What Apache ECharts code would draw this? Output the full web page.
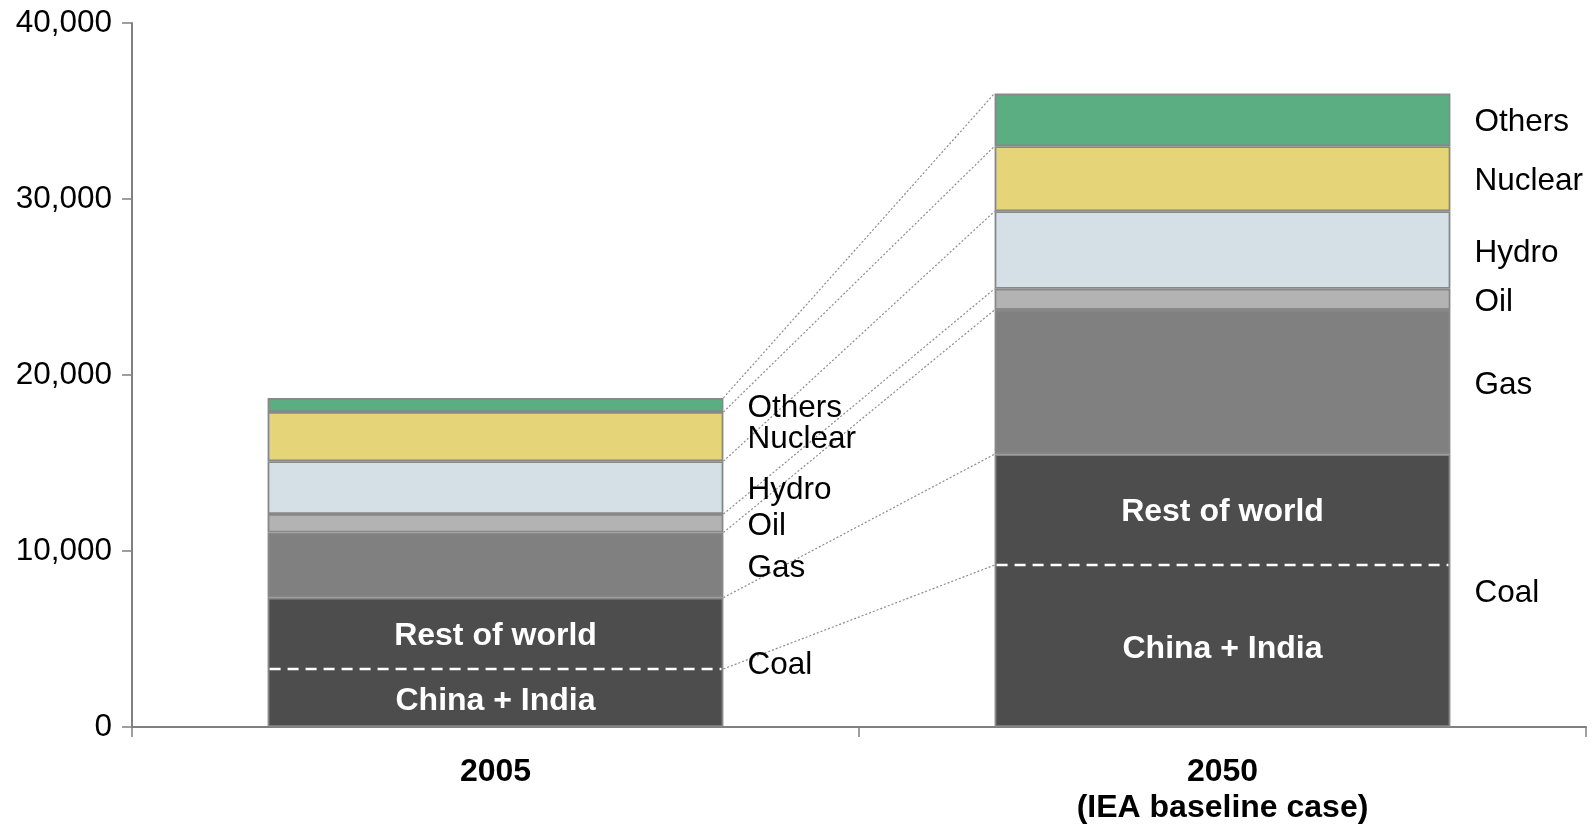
<!DOCTYPE html>
<html>
<head>
<meta charset="utf-8">
<script src="https://cdn.jsdelivr.net/npm/echarts@6/dist/echarts.min.js"></script>
<style>
html,body{margin:0;padding:0;background:#fff;}
#chart{width:1592px;height:826px;}
</style>
</head>
<body>
<div id="chart"></div>
<script>
const categories = ['2005', '2050\n(IEA baseline case)'];
const coalChinaIndia = [3300, 9200];
const coalRestOfWorld = [4050, 6300];
const gas = [3700, 8200];
const oil = [1050, 1200];
const hydro = [3000, 4400];
const nuclear = [2800, 3700];
const others = [800, 3000];
const yTicks = [0, 10000, 20000, 30000, 40000];

const FONT = '"Liberation Sans", Arial, sans-serif';
const BAR_FRAC = 0.627;
const LABEL_DIST = 24;
const coalTotal = coalChinaIndia.map((v, i) => v + coalRestOfWorld[i]);

const stackDefs = [
  { name: 'Coal', data: coalTotal, color: '#4d4d4d', label: false },
  { name: 'Gas', data: gas, color: '#808080', label: true },
  { name: 'Oil', data: oil, color: '#b3b3b3', label: true },
  { name: 'Hydro', data: hydro, color: '#d4e0e6', label: true },
  { name: 'Nuclear', data: nuclear, color: '#e6d479', label: true },
  { name: 'Others', data: others, color: '#5aae82', label: true }
];

// cumulative boundaries for connector lines
const boundaries = [];
{
  let cum = [0, 0];
  cum = cum.map((c, i) => c + coalChinaIndia[i]);
  boundaries.push(cum.slice());
  cum = cum.map((c, i) => c + coalRestOfWorld[i]);
  boundaries.push(cum.slice());
  [gas, oil, hydro, nuclear, others].forEach(arr => {
    cum = cum.map((c, i) => c + arr[i]);
    boundaries.push(cum.slice());
  });
}

const barSeries = stackDefs.map(d => ({
  name: d.name,
  type: 'bar',
  stack: 'total',
  barWidth: (BAR_FRAC * 100) + '%',
  data: d.data,
  itemStyle: { color: d.color, borderColor: '#888888', borderWidth: 1.8 },
  label: d.label ? {
    show: true, position: 'right', distance: LABEL_DIST, offset: [0, 3],
    formatter: d.name, color: '#000', fontSize: 31.5, fontFamily: FONT
  } : { show: false },
  emphasis: { disabled: true },
  z: 2
}));

const connectorSeries = {
  type: 'custom',
  coordinateSystem: 'cartesian2d',
  data: boundaries.map(b => [0, b[0], b[1]]),
  encode: { x: 0, y: 1 },
  silent: true,
  z: 1,
  renderItem: function (params, api) {
    const half = api.size([1, 0])[0] * BAR_FRAC / 2;
    const p0 = api.coord([0, api.value(1)]);
    const p1 = api.coord([1, api.value(2)]);
    return {
      type: 'line',
      shape: { x1: p0[0] + half, y1: p0[1], x2: p1[0] - half, y2: p1[1] },
      style: { stroke: '#8c8c8c', lineWidth: 1.2, lineDash: [2, 2] }
    };
  }
};

const coalSeries = {
  type: 'custom',
  coordinateSystem: 'cartesian2d',
  data: categories.map((c, i) => [i, coalChinaIndia[i], coalTotal[i]]),
  encode: { x: 0, y: 2 },
  silent: true,
  z: 5,
  renderItem: function (params, api) {
    const i = api.value(0);
    const half = api.size([1, 0])[0] * BAR_FRAC / 2;
    const b = api.coord([i, 0]);
    const m = api.coord([i, api.value(1)]);
    const t = api.coord([i, api.value(2)]);
    return {
      type: 'group',
      children: [
        {
          type: 'line',
          shape: { x1: b[0] - half + 2, y1: m[1], x2: b[0] + half - 2, y2: m[1] },
          style: { stroke: '#ffffff', lineWidth: 2.5, lineDash: [11, 7] }
        },
        {
          type: 'text',
          style: { text: 'China + India', x: b[0], y: (b[1] + m[1]) / 2 + 3,
            align: 'center', verticalAlign: 'middle', fill: '#ffffff',
            font: 'bold 32px ' + FONT }
        },
        {
          type: 'text',
          style: { text: 'Rest of world', x: b[0], y: (m[1] + t[1]) / 2 + 3,
            align: 'center', verticalAlign: 'middle', fill: '#ffffff',
            font: 'bold 32px ' + FONT }
        },
        {
          type: 'text',
          style: { text: 'Coal', x: b[0] + half + LABEL_DIST, y: (b[1] + t[1]) / 2 + 3,
            align: 'left', verticalAlign: 'middle', fill: '#000000',
            font: '31.5px ' + FONT }
        }
      ]
    };
  }
};

const chart = echarts.init(document.getElementById('chart'), null, { renderer: 'canvas' });
chart.setOption({
  animation: false,
  backgroundColor: '#ffffff',
  grid: { left: 132, right: 6, top: 23, bottom: 96, containLabel: false },
  xAxis: {
    type: 'category',
    data: categories,
    boundaryGap: true,
    axisLine: { lineStyle: { color: '#808080', width: 2 } },
    axisTick: { show: true, length: 10, alignWithLabel: false, lineStyle: { color: '#808080', width: 1.5 } },
    axisLabel: { color: '#000', fontSize: 32, fontWeight: 'bold', fontFamily: FONT, lineHeight: 36, margin: 27 }
  },
  yAxis: {
    type: 'value',
    min: yTicks[0],
    max: yTicks[yTicks.length - 1],
    interval: yTicks[1] - yTicks[0],
    splitLine: { show: false },
    axisLine: { show: true, lineStyle: { color: '#808080', width: 2 } },
    axisTick: { show: true, length: 10, lineStyle: { color: '#808080', width: 1.5 } },
    axisLabel: {
      color: '#000', fontSize: 31.5, fontFamily: FONT, margin: 20,
      formatter: v => v.toLocaleString('en-US')
    }
  },
  series: [connectorSeries].concat(barSeries).concat([coalSeries])
});
</script>
</body>
</html>
